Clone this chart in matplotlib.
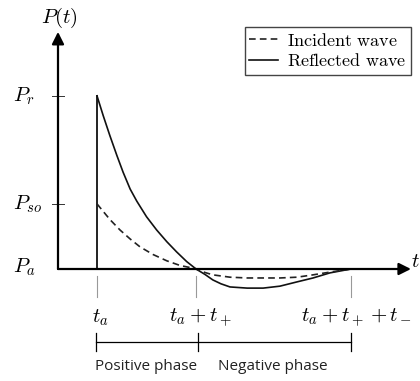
import matplotlib
matplotlib.use('Agg')
import matplotlib.pyplot as plt

plt.rcParams['mathtext.fontset'] = 'cm'

# curve points (time, pressure above ambient)
t_a, t_pos_end, t_neg_end = 1.0, 3.54, 7.51
P_r, P_so = 4.44, 1.67

refl_t = [1.00, 1.16, 1.33, 1.51, 1.67, 1.85, 2.02, 2.27, 2.53, 2.79, 3.04, 3.30, 3.54,
          3.77, 3.97, 4.18, 4.41, 4.85, 5.26, 5.69, 6.13, 6.54, 6.97, 7.51]
refl_p = [4.44, 3.93, 3.42, 2.91, 2.48, 2.05, 1.74, 1.34, 1.00, 0.70, 0.44, 0.19, 0.00,
          -0.14, -0.28, -0.38, -0.46, -0.49, -0.49, -0.44, -0.33, -0.23, -0.10, 0.00]

inc_t = [1.00, 1.33, 1.59, 1.85, 2.10, 2.44, 2.79, 3.13, 3.47, 3.54,
         3.77, 3.97, 4.41, 4.85, 5.26, 5.69, 6.13, 6.54, 6.97, 7.51]
inc_p = [1.67, 1.27, 1.00, 0.77, 0.57, 0.37, 0.21, 0.09, 0.02, 0.00,
         -0.09, -0.15, -0.21, -0.23, -0.23, -0.23, -0.21, -0.15, -0.08, 0.00]

t_ticks = [t_a, t_pos_end, t_neg_end]
t_labels = [r'$t_a$', r'$t_a+t_+$', r'$t_a+t_++t_-$']

fig = plt.figure(figsize=(4.2, 3.81), dpi=100)
ax = fig.add_axes([0, 0, 1, 1])
ax.set_xlim(-58 / 39, 362 / 39)
ax.set_ylim(-112 / 39, 269 / 39)
ax.axis('off')

# axes with arrows
arrow = dict(arrowstyle='-|>', color='black', lw=1.6, mutation_scale=18,
             shrinkA=0, shrinkB=0)
ax.annotate('', xy=(0, 6.08), xytext=(0, 0), arrowprops=arrow)
ax.annotate('', xy=(9.05, 0), xytext=(0, 0), arrowprops=arrow)

# curves
ax.plot([t_a, t_a], [0, P_r], color='#222222', lw=1.4)
ax.plot(refl_t, refl_p, color='#111111', lw=1.2, label=r'$\mathrm{Reflected\ wave}$')
ax.plot(inc_t, inc_p, color='#222222', lw=1.2, ls=(0, (4, 2.5)),
        label=r'$\mathrm{Incident\ wave}$')

# y ticks
for yv in [P_r, P_so]:
    ax.plot([-0.16, 0.16], [yv, yv], color='#333333', lw=0.7)
ax.text(-1.15, P_r, r'$P_r$', fontsize=15, va='center', ha='left')
ax.text(-1.15, P_so, r'$P_{so}$', fontsize=15, va='center', ha='left')
ax.text(-1.15, 0.05, r'$P_a$', fontsize=15, va='center', ha='left')
ax.text(0.05, 6.45, r'$P(t)$', fontsize=15, va='center', ha='center')
ax.text(9.05, 0.2, r'$t$', fontsize=15, va='center', ha='left')

# t ticks and labels
for tv, lab, dx in zip(t_ticks, t_labels, [0.08, 0.1, 0.15]):
    ax.plot([tv, tv], [-0.18, -0.72], color='#999999', lw=0.8)
    ax.text(tv + dx, -1.25, lab, fontsize=15, va='center', ha='center')

# phase bracket
yb = -1.87
ax.plot([t_ticks[0] - 0.03, t_ticks[2]], [yb, yb], color='black', lw=0.9)
for tv in [t_ticks[0] - 0.03, t_ticks[1] + 0.05, t_ticks[2]]:
    ax.plot([tv, tv], [yb + 0.23, yb - 0.23], color='black', lw=0.9)
ax.text(2.26, -2.51, 'Positive phase', fontsize=11, family='Open Sans',
        va='center', ha='center', color='#222222')
ax.text(5.51, -2.51, 'Negative phase', fontsize=11, family='Open Sans',
        va='center', ha='center', color='#222222')

handles, labels = ax.get_legend_handles_labels()
leg = fig.legend(handles[::-1], labels[::-1], loc='upper right',
                 bbox_to_anchor=(411 / 420, 1 - 27 / 381), fontsize=13,
                 frameon=True, fancybox=False, edgecolor='#444444',
                 framealpha=1, handlelength=1.6, handletextpad=0.5,
                 borderpad=0.25, labelspacing=0.15, borderaxespad=0)
leg.get_frame().set_linewidth(1.0)

fig.savefig('out.png', dpi=100)
